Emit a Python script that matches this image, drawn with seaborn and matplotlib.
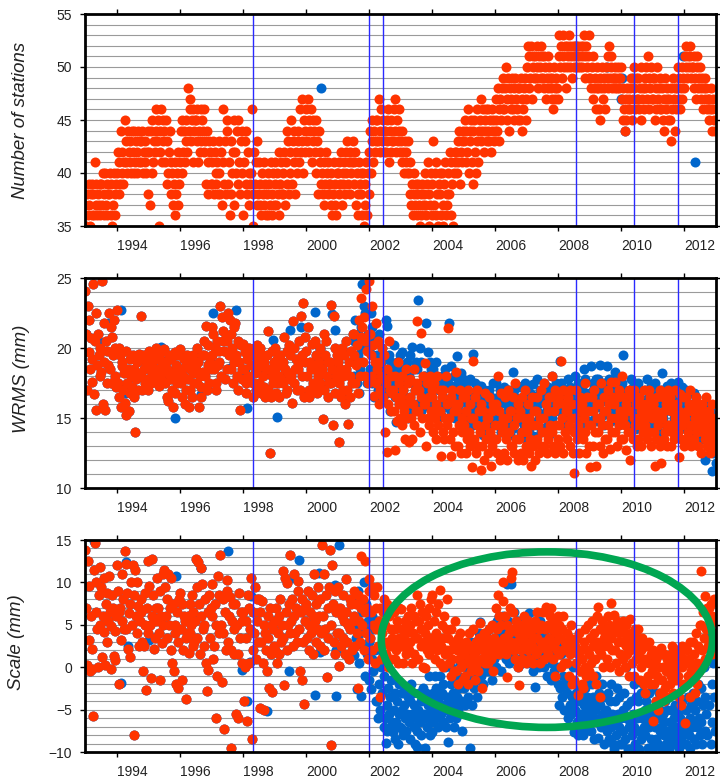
import numpy as np
import matplotlib
matplotlib.use("Agg")
import matplotlib.pyplot as plt
from matplotlib.patches import Ellipse
from matplotlib.ticker import FixedLocator, FixedFormatter, NullFormatter, MultipleLocator
import seaborn as sns

# ---------------------------------------------------------------------------
# Weekly-ish network solutions, 40 epochs per year, one row = one quarter year
# ---------------------------------------------------------------------------
SAMPLES_PER_YEAR = 40
START = 1993.0
SPLIT = 2001.5          # before this epoch both solutions coincide

# Number of stations in the network, 1993.0 - 2013.0
stations = [
    37, 35, 38, 36, 39, 37, 35, 38, 36, 39,
    38, 36, 41, 37, 39, 36, 38, 37, 39, 36,
    39, 37, 40, 36, 38, 40, 37, 39, 36, 38,
    38, 40, 36, 39, 35, 37, 40, 38, 36, 39,
    40, 42, 38, 41, 39, 44, 40, 42, 39, 41,
    45, 41, 43, 40, 44, 42, 41, 43, 40, 44,
    42, 40, 44, 41, 43, 40, 42, 44, 41, 43,
    43, 41, 44, 40, 42, 41, 43, 40, 42, 44,
    38, 42, 37, 44, 40, 45, 41, 43, 42, 44,
    46, 43, 45, 35, 42, 44, 46, 41, 43, 45,
    44, 41, 45, 39, 43, 40, 42, 44, 38, 41,
    40, 37, 39, 36, 41, 38, 40, 37, 42, 39,
    41, 44, 40, 45, 42, 44, 41, 43, 45, 42,
    48, 44, 47, 46, 43, 45, 46, 41, 44, 45,
    45, 43, 46, 41, 44, 42, 46, 43, 45, 44,
    46, 42, 43, 39, 44, 41, 38, 43, 42, 39,
    41, 39, 43, 38, 42, 40, 39, 41, 38, 43,
    40, 38, 42, 37, 46, 41, 39, 43, 38, 45,
    44, 39, 41, 36, 43, 38, 40, 42, 37, 45,
    42, 40, 44, 39, 45, 41, 38, 43, 40, 44,
    36, 41, 43, 39, 44, 38, 42, 40, 37, 39,
    40, 46, 38, 35, 42, 39, 41, 37, 43, 38,
    41, 37, 39, 36, 40, 38, 41, 37, 39, 36,
    38, 40, 36, 39, 37, 41, 38, 36, 40, 37,
    39, 41, 37, 40, 38, 42, 36, 39, 41, 38,
    40, 38, 42, 37, 41, 44, 39, 43, 38, 40,
    42, 45, 39, 43, 41, 44, 38, 42, 40, 43,
    44, 41, 46, 42, 47, 43, 40, 45, 42, 44,
    46, 43, 47, 42, 45, 44, 46, 41, 43, 45,
    44, 42, 45, 40, 43, 38, 44, 41, 42, 39,
    40, 38, 41, 37, 39, 42, 40, 38, 41, 39,
    39, 37, 40, 36, 38, 41, 39, 37, 36, 40,
    40, 38, 41, 39, 42, 37, 40, 39, 41, 38,
    42, 40, 43, 39, 41, 38, 42, 40, 41, 43,
    41, 39, 42, 37, 40, 38, 36, 41, 39, 40,
    38, 36, 40, 35, 39, 37, 41, 36, 40, 38,
    42, 44, 40, 43, 45, 41, 44, 42, 43, 45,
    45, 43, 47, 44, 42, 46, 43, 45, 44, 42,
    44, 42, 45, 43, 46, 41, 44, 45, 42, 43,
    43, 46, 44, 47, 42, 45, 43, 46, 44, 42,
    43, 41, 44, 42, 40, 43, 41, 42, 40, 43,
    40, 38, 41, 37, 39, 36, 38, 40, 37, 39,
    38, 36, 39, 37, 35, 38, 36, 39, 37, 38,
    37, 40, 36, 39, 41, 38, 35, 37, 40, 36,
    39, 43, 37, 40, 36, 41, 38, 35, 39, 40,
    38, 36, 40, 35, 37, 39, 41, 36, 38, 37,
    40, 38, 42, 36, 41, 39, 35, 40, 42, 41,
    42, 40, 43, 41, 44, 39, 42, 43, 41, 44,
    43, 45, 41, 44, 42, 46, 40, 44, 43, 45,
    41, 44, 39, 45, 42, 40, 46, 43, 41, 44,
    45, 43, 47, 44, 46, 42, 45, 44, 46, 43,
    44, 46, 43, 45, 42, 44, 46, 45, 43, 44,
    45, 47, 44, 48, 46, 43, 47, 45, 48, 46,
    49, 46, 48, 50, 45, 47, 49, 44, 48, 46,
    47, 49, 46, 48, 45, 49, 47, 46, 48, 45,
    48, 45, 49, 47, 44, 46, 48, 49, 45, 47,
    50, 52, 48, 51, 49, 52, 47, 50, 51, 49,
    51, 49, 52, 50, 48, 51, 50, 52, 49, 51,
    49, 51, 48, 50, 47, 49, 51, 48, 50, 49,
    48, 47, 49, 46, 50, 48, 47, 49, 48, 47,
    51, 53, 50, 52, 49, 51, 53, 50, 52, 48,
    52, 50, 51, 53, 50, 52, 51, 49, 52, 50,
    51, 52, 50, 51, 52, 50, 51, 50, 52, 51,
    50, 52, 53, 51, 49, 52, 50, 51, 53, 49,
    49, 48, 50, 47, 51, 48, 49, 46, 50, 48,
    48, 46, 49, 45, 48, 50, 47, 49, 48, 46,
    50, 49, 51, 48, 52, 49, 50, 51, 48, 49,
    49, 48, 50, 49, 48, 50, 49, 48, 49, 50,
    47, 45, 48, 46, 44, 47, 45, 48, 46, 47,
    48, 46, 49, 45, 47, 50, 48, 46, 49, 47,
    47, 49, 46, 48, 45, 50, 47, 48, 46, 49,
    48, 50, 47, 51, 49, 46, 48, 50, 47, 49,
    47, 49, 45, 48, 46, 50, 47, 48, 46, 49,
    46, 48, 45, 47, 44, 49, 46, 48, 47, 45,
    47, 45, 48, 43, 46, 49, 47, 44, 48, 46,
    48, 50, 47, 49, 46, 48, 50, 47, 49, 48,
    51, 50, 52, 49, 51, 50, 52, 51, 49, 50,
    50, 48, 51, 49, 47, 50, 51, 48, 49, 50,
    48, 47, 49, 46, 48, 47, 49, 48, 46, 47,
    47, 45, 46, 48, 44, 46, 47, 45, 44, 46,
]
# epochs where the blue solution used a different station count
stations_blue_epochs = [2000.48, 2008.55, 2009.55, 2010.02, 2010.0, 2010.1, 2010.36, 2011.95, 2012.35]
stations_blue_counts = [48, 52, 50, 49, 47, 44, 49, 51, 41]

# WRMS (mm): common part, then the two solutions
wrms_common = [
    24.1, 21.0, 17.0, 23.0, 19.7, 22.0, 18.5, 20.7, 17.6, 19.2,
    24.6, 16.7, 20.5, 22.5, 15.6, 18.8, 21.0, 19.5, 18.0, 20.0,
    18.3, 24.8, 16.0, 19.0, 21.8, 15.6, 20.5, 17.5, 19.8, 18.8,
    22.5, 18.5, 21.5, 17.5, 20.8, 19.5, 22.0, 18.0, 20.0, 17.2,
    22.7, 17.5, 20.0, 16.5, 19.5, 15.8, 18.7, 19.0, 17.0, 18.2,
    16.1, 19.8, 15.2, 17.5, 18.5, 15.5, 16.8, 19.2, 18.0, 17.2,
    19.5, 16.5, 18.5, 14.0, 17.8, 19.0, 18.2, 17.0, 19.6, 18.0,
    18.0, 22.3, 17.0, 19.5, 18.5, 17.5, 19.2, 18.8, 17.8, 19.0,
    17.0, 19.8, 18.5, 17.5, 19.0, 18.2, 19.5, 18.0, 17.8, 19.2,
    20.0, 18.5, 19.5, 17.3, 18.0, 19.2, 17.8, 18.8, 19.8, 18.3,
    19.9, 17.5, 19.0, 16.5, 18.5, 16.2, 19.5, 18.0, 17.8, 19.2,
    17.0, 15.8, 18.3, 19.7, 16.8, 18.8, 17.5, 19.5, 18.0, 17.8,
    19.9, 17.5, 18.5, 16.5, 18.0, 19.2, 16.0, 18.8, 17.0, 19.5,
    17.8, 15.8, 18.5, 17.0, 19.0, 16.5, 18.2, 19.5, 17.5, 18.8,
    18.5, 20.0, 17.5, 19.0, 15.8, 18.0, 16.5, 17.2, 19.5, 18.3,
    19.5, 20.5, 18.0, 21.6, 17.0, 18.8, 20.2, 17.5, 19.0, 18.5,
    21.5, 19.5, 21.0, 18.5, 20.0, 17.5, 17.0, 20.5, 18.8, 19.8,
    19.0, 23.0, 18.0, 22.2, 20.5, 21.2, 19.8, 17.8, 20.8, 18.5,
    20.5, 22.5, 19.5, 22.0, 18.5, 21.0, 20.0, 17.5, 21.5, 19.0,
    21.8, 19.5, 18.0, 20.5, 17.0, 19.0, 15.6, 20.2, 18.5, 17.8,
    20.3, 18.5, 19.7, 17.5, 16.8, 19.2, 18.0, 20.0, 17.8, 19.5,
    18.8, 19.9, 17.5, 16.5, 19.5, 18.2, 17.0, 20.2, 18.5, 19.0,
    17.5, 20.0, 18.8, 16.8, 19.5, 18.0, 17.2, 19.0, 16.5, 18.5,
    19.5, 17.0, 21.2, 18.5, 12.5, 16.5, 18.0, 19.8, 17.5, 19.0,
    18.5, 20.0, 16.8, 19.2, 17.5, 18.0, 16.5, 19.5, 17.8, 18.8,
    19.0, 17.5, 20.8, 18.5, 16.8, 19.8, 17.0, 18.2, 20.2, 17.8,
    19.5, 18.0, 16.1, 21.9, 17.5, 20.0, 18.5, 19.2, 17.0, 18.8,
    18.5, 20.5, 17.0, 22.3, 19.5, 18.0, 23.2, 16.5, 19.0, 20.8,
    19.8, 18.0, 21.5, 17.0, 16.5, 19.0, 18.5, 20.3, 17.5, 18.8,
    18.5, 20.5, 17.2, 19.5, 16.8, 18.0, 19.0, 17.5, 20.0, 18.2,
    18.5, 14.9, 17.0, 21.0, 19.5, 20.5, 18.0, 16.5, 19.0, 17.5,
    19.0, 17.5, 23.1, 18.5, 14.5, 22.3, 20.0, 16.8, 18.0, 19.5,
    19.0, 17.5, 13.3, 18.5, 16.5, 20.0, 18.0, 17.0, 19.5, 16.0,
    18.5, 20.5, 17.0, 14.6, 19.0, 16.5, 18.0, 19.8, 17.5, 21.0,
]
wrms_blue_late = [
    20.5, 18.0, 22.0, 19.0, 17.5, 21.0, 19.5, 16.8, 18.5, 20.0,
    21.5, 24.6, 19.0, 23.0, 18.0, 22.5, 20.0, 17.5, 21.0, 19.8,
    20.5, 18.5, 22.5, 17.5, 21.5, 19.5, 16.5, 20.8, 18.0, 19.0,
    19.5, 17.0, 21.0, 18.0, 16.5, 18.8, 20.0, 17.5, 18.5, 19.2,
    18.0, 22.0, 16.8, 21.6, 17.0, 19.5, 15.5, 18.5, 19.0, 17.5,
    17.5, 20.2, 16.5, 18.5, 14.7, 19.0, 17.0, 18.0, 16.0, 19.5,
    18.0, 19.7, 16.0, 17.0, 18.5, 15.5, 17.5, 16.5, 19.0, 15.0,
    18.0, 16.5, 19.5, 15.5, 20.1, 17.5, 16.0, 18.5, 17.0, 19.0,
    18.5, 16.0, 23.4, 17.0, 20.0, 15.5, 19.0, 17.5, 16.5, 18.0,
    18.0, 16.5, 21.8, 17.0, 19.7, 15.8, 17.5, 19.0, 18.5, 16.0,
    16.5, 18.5, 15.5, 17.5, 19.0, 16.0, 18.0, 15.0, 17.0, 17.8,
    17.0, 15.2, 18.0, 16.5, 17.5, 16.0, 18.5, 15.8, 17.2, 16.3,
    17.5, 21.8, 16.0, 18.7, 15.5, 17.0, 16.5, 18.0, 15.0, 17.3,
    16.5, 19.4, 15.5, 17.5, 16.0, 17.0, 18.2, 15.0, 16.8, 17.8,
    16.5, 14.5, 17.5, 15.5, 17.0, 16.0, 15.0, 17.8, 16.3, 14.8,
    16.5, 14.5, 19.6, 15.5, 17.5, 16.0, 17.0, 15.0, 16.8, 17.3,
    15.5, 17.3, 14.5, 16.5, 13.8, 17.0, 15.0, 16.0, 16.8, 15.3,
    16.0, 14.0, 17.0, 15.0, 16.5, 14.5, 15.5, 17.5, 13.5, 16.2,
    15.5, 17.5, 14.5, 16.5, 15.0, 16.0, 17.0, 14.0, 16.3, 15.3,
    15.0, 17.2, 14.0, 16.0, 16.5, 14.5, 15.5, 17.0, 13.8, 16.2,
    16.0, 14.2, 18.3, 15.0, 17.0, 16.5, 15.5, 14.8, 17.3, 16.2,
    15.0, 17.2, 14.0, 16.0, 15.5, 16.5, 14.5, 17.5, 15.8, 13.5,
    15.2, 17.0, 14.2, 16.2, 15.7, 16.7, 14.7, 17.4, 13.7, 16.0,
    16.5, 14.5, 17.8, 15.5, 16.0, 15.0, 17.0, 14.0, 16.3, 15.3,
    15.3, 17.5, 14.3, 16.3, 16.8, 15.8, 14.8, 17.2, 13.8, 16.0,
    16.0, 18.0, 15.0, 17.0, 16.5, 15.5, 14.5, 17.5, 15.8, 16.8,
    16.5, 15.5, 19.1, 17.5, 14.5, 17.0, 16.0, 15.0, 16.8, 15.8,
    16.8, 14.8, 17.8, 15.8, 17.2, 16.2, 15.2, 14.2, 16.5, 15.5,
    16.0, 18.0, 15.0, 17.0, 17.5, 16.5, 15.5, 14.5, 16.8, 15.8,
    17.3, 15.3, 18.5, 16.3, 17.8, 16.8, 15.8, 14.8, 16.5, 15.5,
    16.5, 18.7, 15.5, 17.5, 17.0, 16.0, 15.0, 17.8, 16.3, 14.8,
    17.8, 15.8, 18.8, 16.8, 17.2, 16.2, 15.2, 17.5, 14.5, 16.5,
    16.5, 18.7, 15.5, 17.5, 17.8, 16.8, 15.8, 14.8, 17.2, 16.0,
    17.3, 15.3, 18.3, 16.3, 17.8, 16.8, 15.8, 14.5, 17.0, 16.0,
    17.5, 19.5, 15.5, 16.5, 17.0, 16.0, 15.0, 14.5, 16.8, 15.8,
    16.8, 14.8, 17.8, 15.8, 17.2, 16.2, 15.2, 14.2, 16.5, 15.5,
    16.5, 17.5, 14.5, 15.5, 17.0, 16.0, 15.0, 14.0, 16.3, 15.3,
    17.0, 15.0, 17.8, 16.0, 16.5, 15.5, 14.5, 17.3, 15.8, 14.2,
    16.5, 14.5, 17.5, 15.5, 17.0, 16.0, 15.0, 14.0, 16.3, 15.3,
    17.0, 18.2, 15.0, 16.0, 16.5, 15.5, 14.5, 17.3, 15.8, 14.2,
    16.5, 14.5, 17.5, 15.5, 17.0, 16.0, 15.0, 14.0, 16.3, 15.3,
    16.8, 17.6, 14.8, 15.8, 16.3, 15.3, 14.3, 17.2, 15.6, 14.6,
    16.2, 17.0, 14.2, 15.2, 16.7, 15.7, 14.7, 13.7, 16.0, 15.0,
    16.0, 16.8, 14.0, 15.0, 16.5, 15.5, 14.5, 13.5, 15.8, 14.8,
    15.5, 15.8, 13.5, 14.5, 16.0, 15.0, 12.0, 14.0, 15.3, 14.3,
    15.0, 13.0, 15.5, 14.0, 11.2, 14.5, 12.5, 15.2, 13.5, 11.8,
]
wrms_red_late = [
    19.5, 21.0, 17.5, 18.8, 20.2, 16.8, 19.0, 22.0, 18.0, 20.8,
    23.6, 21.5, 19.0, 22.2, 20.5, 18.0, 24.2, 19.8, 17.5, 21.0,
    24.8, 21.0, 19.5, 23.0, 18.0, 20.2, 16.6, 19.0, 21.8, 17.5,
    18.5, 20.5, 16.0, 19.0, 17.0, 18.0, 20.0, 16.5, 17.8, 19.5,
    14.0, 17.5, 12.6, 18.5, 16.0, 20.5, 17.0, 15.5, 18.0, 16.8,
    17.0, 15.5, 12.7, 18.0, 16.5, 14.8, 19.0, 16.0, 17.5, 15.0,
    16.5, 18.0, 14.5, 17.0, 15.5, 13.5, 16.0, 18.5, 15.0, 17.5,
    13.3, 16.5, 17.8, 15.0, 13.5, 16.0, 18.5, 14.5, 17.0, 15.5,
    17.5, 21.9, 15.5, 17.0, 14.0, 16.5, 21.1, 15.0, 18.0, 16.0,
    18.9, 16.0, 13.0, 17.5, 15.0, 16.5, 14.5, 18.0, 15.5, 17.0,
    16.5, 14.0, 17.5, 15.0, 13.5, 16.0, 18.0, 14.5, 15.5, 17.0,
    15.5, 12.3, 16.5, 14.0, 17.0, 13.5, 15.0, 18.0, 14.5, 16.0,
    21.4, 15.0, 13.5, 16.5, 12.3, 17.0, 14.0, 15.5, 13.0, 16.0,
    18.3, 15.5, 13.0, 16.0, 14.5, 17.0, 12.5, 15.0, 14.0, 16.5,
    14.5, 16.5, 12.5, 15.5, 13.5, 17.0, 14.0, 16.0, 13.0, 15.0,
    11.5, 15.0, 19.1, 13.5, 16.5, 12.5, 14.5, 17.0, 13.0, 15.5,
    14.0, 11.3, 16.0, 13.0, 15.5, 12.0, 14.5, 16.8, 13.5, 15.0,
    15.0, 12.5, 16.5, 14.0, 11.6, 15.5, 13.0, 16.0, 13.5, 14.5,
    13.5, 16.0, 12.5, 18.0, 14.5, 15.5, 12.0, 16.8, 14.0, 15.0,
    14.5, 12.5, 16.5, 13.5, 15.0, 12.0, 17.0, 14.0, 15.5, 13.0,
    15.5, 13.0, 16.5, 12.5, 14.5, 17.5, 13.5, 15.0, 12.0, 16.0,
    13.5, 15.5, 12.5, 16.5, 14.0, 12.0, 15.0, 17.0, 13.0, 14.5,
    14.0, 16.0, 12.5, 15.0, 13.5, 11.6, 16.5, 14.5, 13.0, 15.5,
    12.0, 15.5, 13.5, 16.5, 14.5, 12.5, 15.0, 17.0, 13.0, 14.0,
    15.0, 13.0, 17.5, 14.0, 16.0, 12.5, 15.5, 13.5, 16.5, 14.5,
    16.5, 14.0, 18.0, 13.0, 15.5, 12.5, 17.0, 14.5, 16.0, 13.5,
    14.5, 16.5, 13.0, 19.1, 15.0, 17.0, 12.5, 16.0, 14.0, 15.5,
    15.5, 13.5, 16.5, 14.5, 17.0, 13.0, 15.0, 16.0, 12.5, 14.0,
    11.1, 15.0, 17.0, 13.5, 16.0, 14.5, 12.5, 16.5, 15.5, 14.0,
    16.0, 13.5, 15.0, 17.5, 14.0, 12.5, 16.5, 15.5, 13.0, 14.5,
    11.5, 14.5, 16.5, 13.0, 15.5, 17.0, 14.0, 11.6, 16.0, 15.0,
    14.0, 16.0, 13.0, 15.0, 17.5, 14.5, 12.5, 16.5, 15.5, 13.5,
    15.5, 13.5, 17.0, 14.5, 16.0, 12.8, 15.0, 17.6, 14.0, 16.5,
    16.0, 14.0, 17.6, 15.0, 13.0, 16.5, 14.5, 17.0, 15.5, 13.5,
    18.0, 15.0, 13.5, 16.5, 14.5, 12.7, 16.0, 15.5, 14.0, 17.0,
    12.0, 15.5, 14.0, 16.5, 13.5, 15.0, 17.0, 14.5, 16.0, 13.0,
    15.0, 13.5, 16.5, 14.5, 15.5, 13.0, 16.0, 14.0, 17.0, 15.0,
    14.5, 16.0, 13.5, 15.5, 17.0, 14.0, 16.5, 13.0, 15.0, 16.0,
    16.0, 14.0, 11.6, 15.5, 13.5, 16.5, 14.5, 15.0, 13.0, 17.0,
    11.8, 15.0, 16.5, 13.5, 15.5, 14.0, 16.0, 14.5, 13.0, 17.0,
    14.5, 16.5, 13.0, 15.5, 14.0, 16.0, 13.5, 15.0, 17.0, 14.5,
    16.0, 14.0, 12.2, 15.5, 16.7, 13.5, 15.0, 14.5, 16.5, 13.0,
    15.0, 16.5, 13.5, 15.5, 14.0, 16.0, 14.5, 17.0, 13.0, 15.5,
    14.5, 16.0, 13.5, 15.0, 16.5, 14.0, 15.5, 13.0, 16.0, 14.5,
    15.0, 12.5, 16.0, 14.0, 15.5, 13.5, 14.5, 16.5, 13.0, 15.0,
    14.0, 15.5, 12.5, 15.0, 13.5, 16.0, 14.5, 13.0, 15.0, 14.0,
]
wrms_blue_epochs = [1993.04, 1993.46, 1993.72, 1994.15, 1994.29, 1995.42, 1995.47, 1995.84,
                    1996.69, 1997.06, 1997.59, 1997.80, 1998.06, 1998.12, 1998.96, 1999.07,
                    1999.49, 1999.86, 2000.29, 2000.44, 2000.82, 2000.92]
wrms_blue_values = [21.0, 20.4, 21.8, 22.7, 16.8, 20.1, 17.7, 15.0,
                    16.7, 22.5, 18.6, 22.7, 18.3, 15.7, 20.6, 15.1,
                    21.3, 21.5, 22.6, 19.9, 22.4, 21.3]

# Scale (mm): common part, then the two solutions
scale_common = [
    13.8, 7.0, 0.3, 12.5, 3.2, 9.6, -0.5, 6.0, 2.2, -0.2,
    -5.8, 11.5, 14.7, 6.5, 10.0, 4.5, 0.0, 8.5, 5.0, 11.8,
    9.5, 1.2, 6.0, 4.2, 10.5, 0.3, 7.5, 3.0, 8.8, 5.5,
    10.8, 6.5, 4.8, -0.2, 8.5, 7.0, 1.3, 4.3, 0.8, 6.0,
    12.0, 9.0, 6.5, -2.0, 7.0, 3.2, 11.0, 5.5, 8.0, 4.5,
    13.7, 4.5, 12.2, 8.7, 2.2, 6.4, 1.2, 7.5, 10.0, 5.0,
    12.0, -8.0, 8.5, 11.5, 6.0, 10.0, 4.0, 7.2, 2.5, 5.5,
    8.0, 6.5, 3.0, -0.5, 2.5, 5.0, 8.8, -2.7, 7.0, 4.0,
    12.5, 9.6, 5.0, -1.3, 6.0, 12.8, 8.5, 2.2, 3.5, 7.0,
    5.5, 10.5, 7.0, 4.0, -1.5, 9.0, 6.0, 2.8, 11.0, 5.0,
    11.5, 9.5, 6.0, 3.5, 8.0, 11.0, 5.0, 7.0, 2.0, 10.5,
    0.5, 7.5, -0.5, 5.0, 4.0, -2.0, 6.5, -2.5, 3.0, 8.0,
    8.7, 4.5, -1.5, 7.5, 2.0, 6.0, 5.5, 3.5, -3.8, 4.0,
    6.0, 1.7, 7.5, 4.0, 5.0, 8.5, 2.5, 6.5, 3.0, 5.5,
    12.8, 9.5, 3.5, 12.4, 7.5, 1.5, 11.7, 6.0, 9.8, 4.5,
    5.0, 2.5, 8.0, 0.5, -2.8, 6.5, -0.3, 8.5, 3.5, 7.0,
    9.8, 6.0, 1.0, 2.5, 7.5, -6.0, 5.0, -1.0, 10.8, 4.0,
    8.5, 13.2, 5.0, -1.8, 8.0, 4.0, -7.3, 6.5, 2.0, 9.0,
    10.3, 3.0, 6.0, 8.3, 2.0, -9.5, 5.5, 7.5, 1.5, 4.5,
    7.5, -5.5, 5.0, -6.0, 1.5, 8.7, 3.5, 6.5, 0.5, 5.5,
    6.5, -4.0, 0.0, 5.5, 3.5, -6.3, 8.5, 0.5, 7.0, 4.5,
    10.5, -8.5, 2.0, 6.5, 4.0, 9.5, 1.0, 5.5, 8.0, 3.0,
    8.0, -4.8, 6.5, 3.0, 7.8, 0.5, 5.0, -5.0, 4.0, 2.0,
    -0.5, 6.0, 3.5, -2.5, 7.0, 1.5, 5.0, -2.9, 4.5, 2.5,
    5.5, 2.0, 7.0, 0.5, 4.0, 6.0, 1.5, 8.0, 3.0, 5.0,
    11.3, 3.5, -2.1, 10.5, 6.5, 2.0, 9.9, 5.0, 7.5, 4.0,
    13.2, 5.5, 8.0, 2.5, 6.0, 11.0, 4.0, 7.0, 3.0, 9.0,
    10.2, 4.5, -0.5, 6.5, -1.5, 8.0, 3.0, -4.3, 5.5, 7.0,
    7.5, 3.5, 9.0, 5.0, 2.0, 6.5, 4.0, 8.5, 1.5, 6.0,
    11.0, 5.5, 3.0, 7.5, 4.5, 9.5, 6.0, 2.5, 8.0, 4.0,
    14.4, 6.0, 2.0, 11.0, 4.5, 8.5, -1.1, 7.0, 3.5, 9.5,
    13.8, 5.0, -9.2, 12.0, 7.5, 3.0, 9.0, 1.5, 6.5, 4.0,
    9.5, 4.0, 0.2, 7.0, 2.5, 6.0, 8.5, 3.5, 5.5, 1.5,
    6.5, 10.4, 3.0, 5.0, 1.0, 8.0, 4.5, 7.5, 2.0, 5.5,
]
scale_blue_late = [
    6.0, 1.4, 8.0, 3.5, -2.6, 5.0, 9.0, 0.5, 4.0, 7.0,
    -3.4, 6.5, 2.5, 10.0, -1.0, 4.5, 7.5, 1.5, 5.5, 3.0,
    -1.5, 3.5, -2.6, 6.0, 1.0, -0.5, 4.5, 2.0, -4.0, 5.0,
    -4.0, -6.0, -2.0, 2.5, -5.0, 0.0, -3.0, 1.5, -7.0, -1.0,
    -6.0, -8.9, -4.5, -7.5, -2.5, -5.5, -3.5, -7.0, -1.5, -6.5,
    -7.7, -5.0, -8.5, -3.0, -6.5, -4.0, -9.0, -5.5, -2.0, -7.0,
    -7.2, -5.0, -3.0, -8.0, -4.5, -6.0, -2.5, -7.5, -5.5, -3.5,
    -6.5, -4.0, -8.5, -2.0, -5.5, -3.0, -7.0, -4.5, -9.0, -6.0,
    -9.4, -7.5, -5.0, -3.0, -6.5, -8.0, -4.0, -6.0, -2.5, -5.5,
    -9.5, -6.0, -3.1, -7.0, -4.5, -1.0, -5.5, -8.0, -3.5, -6.5,
    -7.7, -3.0, -5.0, -1.0, -6.0, -2.5, -4.0, -7.0, -3.5, -5.5,
    -1.0, -5.5, -3.0, -6.5, -2.0, -4.5, 0.0, -7.0, -3.5, -5.0,
    -8.8, -4.0, -6.0, -2.0, 0.0, -5.0, -3.0, -7.0, -1.5, -4.5,
    -6.0, -3.5, -1.0, -5.0, -2.5, 0.5, -4.0, -7.5, -2.0, 1.0,
    -2.5, -4.5, 0.0, -1.5, 2.0, -3.5, 1.0, -9.5, -0.5, 3.0,
    -4.5, -1.0, 1.5, -2.5, 3.0, 0.0, -3.5, 2.0, -1.5, 4.0,
    5.3, 0.5, -1.0, 2.5, -2.0, 3.5, 1.0, -0.5, 4.0, 1.5,
    -0.5, 2.0, 4.5, 0.0, 3.0, -1.5, 2.5, 5.0, 1.0, 3.5,
    0.0, 3.0, 5.5, 1.5, 6.0, 2.0, 4.0, -0.5, 3.5, 5.0,
    6.0, 2.5, 4.5, 1.0, 9.8, 3.0, 5.5, 0.5, 4.0, 2.0,
    9.8, 3.5, 1.0, 4.5, 6.5, 2.0, 3.0, 5.5, 0.0, 4.0,
    3.5, 1.0, 4.5, 2.5, 0.5, 5.0, 3.0, 1.5, 4.0, 2.0,
    0.5, 3.5, 6.4, 2.0, 4.0, 1.0, 5.0, -0.5, 3.0, 2.5,
    -2.3, 2.5, 4.5, 1.0, 3.5, 0.0, 5.5, 2.0, 4.0, 1.5,
    1.0, 3.0, 0.0, 4.5, 2.0, -1.0, 3.5, 1.5, 5.0, 2.5,
    -1.5, 2.0, 0.5, 3.5, -0.5, 1.5, 4.0, 0.0, 2.5, -2.0,
    -4.5, 0.0, -2.5, 1.5, -3.5, -1.0, 2.0, -5.0, -2.0, 0.5,
    -5.2, -3.0, -6.0, -1.5, -4.5, -2.0, -5.5, -3.5, 0.0, -4.0,
    -7.7, -5.0, -3.0, -6.5, -4.0, -8.0, -2.5, -5.5, -7.0, -3.5,
    -6.0, -8.0, -4.5, -2.5, -7.0, -5.0, -3.5, -6.5, -1.5, -5.5,
    -4.5, -7.5, -2.0, -6.0, -3.5, -8.5, -5.0, -1.0, -6.5, -4.0,
    -8.4, -3.0, -6.0, -4.5, -7.0, -2.0, -5.5, -9.0, -3.5, -6.5,
    -5.0, -7.5, -3.0, -6.0, -8.5, -4.0, -2.0, -7.0, -5.5, -9.0,
    -9.6, -6.5, -4.0, -8.0, -2.5, -5.5, -7.0, -3.5, -9.0, -6.0,
    -9.0, -5.0, -7.5, -3.0, -8.5, -6.0, 0.0, -4.5, -9.6, -7.0,
    -6.5, -9.7, -4.0, -8.0, -5.5, -2.0, -7.0, -9.0, -3.5, -6.0,
    -4.0, -7.5, -9.7, -5.5, -3.0, -8.5, -6.0, -2.0, -7.0, -5.0,
    -8.0, -4.0, -6.5, -9.5, -3.0, -7.0, -5.5, -8.5, -2.5, -6.0,
    -9.5, -5.5, -7.0, -8.5, -4.0, -6.0, -9.0, -3.0, -7.5, -5.0,
    -7.0, -9.6, -5.5, -8.0, -6.5, -4.0, -9.0, -7.5, -5.0, -8.5,
    -9.6, -6.5, -8.0, -5.0, -7.5, -9.0, -6.0, -4.5, -8.5, -7.0,
    -8.0, -5.5, -9.5, -7.0, -6.0, -8.5, -4.0, -9.0, -6.5, -7.5,
    -6.5, -9.0, -5.0, -7.5, -3.5, -8.0, -6.0, -9.5, -4.5, -7.0,
    -3.0, -6.5, -8.5, -5.0, -9.0, -4.0, -7.0, -2.0, -6.0, -8.0,
    -6.5, -2.5, -9.0, -4.5, 0.0, -7.5, -3.5, -5.5, -8.0, 1.0,
    3.5, -4.5, 2.0, -9.0, -2.0, -6.5, 0.5, -3.5, -7.5, 1.5,
]
scale_red_late = [
    6.0, 9.0, 2.5, 7.5, 4.0, 8.5, -2.5, 5.5, 3.0, 7.0,
    13.1, 5.0, 8.0, 2.0, 6.5, 12.5, 4.0, 7.0, 1.0, 9.0,
    10.4, 3.5, 6.5, 9.5, 2.0, 5.0, 8.5, 0.5, 4.5, 7.0,
    9.5, 2.5, 5.5, -3.5, 7.0, 1.0, 4.0, 6.5, 3.0, 8.0,
    5.0, 1.5, 7.5, 3.0, 0.0, 6.0, 2.5, 4.5, 1.0, 3.5,
    3.0, 6.5, 1.0, 4.5, 2.0, 5.5, 0.5, 3.5, 7.0, 2.5,
    6.9, 2.5, 4.5, 0.5, 3.5, 5.5, 1.5, 4.0, 2.0, 6.0,
    2.0, 5.0, 3.0, 7.0, 0.5, 4.0, 6.0, 1.5, 3.5, 5.5,
    8.5, 3.5, 1.0, 5.5, 7.5, 2.5, 4.5, 6.5, 0.0, 3.0,
    -0.1, 4.0, 6.0, 2.0, 5.0, 7.0, 1.5, 3.5, 8.0, 2.5,
    8.5, 3.0, 5.5, 1.0, 4.0, 6.5, 2.0, 7.5, 3.5, 0.5,
    9.1, 2.5, 5.0, 0.0, 3.5, 6.0, 1.5, 4.5, 8.0, 2.0,
    3.5, 0.5, 2.0, -1.0, 4.5, 1.0, 3.0, -0.5, 2.5, 5.5,
    -0.5, 2.0, 3.5, -2.0, 1.0, 4.0, 0.0, 2.5, 1.5, -1.5,
    1.5, -1.0, 3.0, 0.5, 2.0, -2.0, 4.0, 1.0, 2.5, -0.5,
    2.5, 0.0, 4.5, 1.5, -1.5, 3.0, 0.5, 2.0, -0.5, 3.5,
    5.2, 1.0, 3.0, -2.5, 2.0, 4.0, 0.5, 2.5, 1.5, 3.5,
    3.0, 0.5, 4.5, 2.0, 1.0, 5.0, 2.5, -0.5, 3.5, 1.5,
    7.0, 2.5, 4.5, 8.5, 1.5, 6.0, 3.0, 5.0, 2.0, 7.8,
    10.1, 3.5, 6.0, 1.5, -1.1, 5.0, 2.5, 4.0, 7.0, 3.0,
    10.5, 11.2, 6.5, 2.0, 4.5, 1.0, 5.5, 3.0, 0.0, 4.0,
    -2.1, 4.0, 2.0, 5.0, 1.0, 3.5, 6.0, 2.5, 0.5, 4.5,
    5.6, 2.0, 4.0, 1.0, 3.0, 5.0, 2.5, 0.5, 4.5, 3.5,
    5.5, 1.5, 3.5, 6.5, 2.0, 4.5, 0.5, 3.0, 5.0, 2.5,
    6.5, 3.0, 1.0, 4.5, 7.1, 2.0, 5.0, 1.5, 3.5, 6.0,
    7.0, 2.5, 4.5, 1.0, 5.5, 3.0, -1.0, 4.0, 2.0, 6.0,
    5.0, 1.5, 3.5, 0.0, 4.5, 2.0, 6.0, 0.5, 3.0, 2.5,
    4.0, 0.5, 2.5, -1.0, 3.5, 1.5, 5.0, -2.0, 2.0, 3.0,
    -1.5, 2.5, 0.5, 3.5, -3.3, 1.5, 4.0, -0.5, 2.0, -2.0,
    1.0, -2.5, 3.0, 0.0, 4.5, -1.0, 2.0, 5.0, -0.5, 1.5,
    3.5, 0.5, 5.5, -1.0, 2.5, 4.0, 1.0, -2.0, 3.0, 6.0,
    7.1, 2.0, 4.5, -3.5, 1.5, 5.5, 0.0, 3.5, 2.5, 4.0,
    4.5, 1.0, 6.0, 2.5, 5.0, 0.0, 3.5, 7.6, 2.0, 4.0,
    6.1, 2.0, 4.5, 0.5, 5.5, 3.0, -0.5, 4.0, 1.5, 5.0,
    3.0, 5.5, 1.0, 4.0, 0.0, 2.5, 5.0, 1.5, 3.5, -1.0,
    5.7, 2.0, 4.0, 0.5, 3.0, -1.0, 2.5, 4.5, 1.0, 3.5,
    4.5, 1.5, 3.0, -1.5, 2.0, 0.0, 3.5, 1.0, -2.0, 2.5,
    -3.0, 1.0, 2.5, -1.0, 0.5, 3.0, -2.0, 1.5, -0.5, 2.0,
    -6.4, -2.0, 0.5, -4.0, 1.0, -1.0, -5.0, 0.0, -3.0, 1.5,
    2.3, -1.5, 0.0, -4.0, 1.5, -2.5, -0.5, 1.0, -3.5, 0.5,
    0.0, -2.0, 1.5, -1.0, 2.5, -3.0, 0.5, -0.5, 1.0, -1.5,
    2.0, -1.0, -3.5, 0.5, 1.5, -4.5, 0.0, 2.5, -2.0, 1.0,
    -6.6, 0.5, -2.0, 2.0, -1.0, 1.0, -3.5, 3.0, -0.5, 0.0,
    3.0, -1.5, 1.5, -3.0, 4.0, 0.5, -2.0, 2.5, -0.5, 5.0,
    11.3, 5.0, 2.0, 6.5, 3.5, 8.4, 1.0, 4.5, 7.0, 2.5,
    7.0, 3.0, 5.0, 7.5, 1.5, 6.0, 4.0, 8.0, 2.5, 5.5,
]
scale_blue_epochs = [1993.30, 1994.15, 1994.30, 1994.36, 1995.02, 1995.90, 1996.69, 1997.54,
                     1997.98, 1998.12, 1998.22, 1998.27, 1998.76, 1999.47, 1999.60, 1999.79,
                     2000.28, 2000.42, 2000.44, 2000.92, 2000.97, 2000.97, 2001.06]
scale_blue_values = [14.9, -1.9, 12.4, 2.5, 3.2, 10.7, 11.7, 13.7,
                     -0.3, -4.0, 0.6, 8.4, -5.2, -0.5, 10.5, 12.6,
                     -3.3, 11.1, 1.8, 9.7, -3.4, 2.0, 14.4]

# Epochs of network/processing changes
change_epochs = [1998.32, 2002.0, 2002.43, 2008.55, 2010.41, 2011.78]

# Axis ranges, tick years and labels
YEAR_MIN, YEAR_MAX = 1993.0, 2013.0
tick_years = list(range(1994, 2013, 2))
tick_labels = [str(y) for y in tick_years]

RED = "#ff3300"
BLUE = "#0066cc"
GREEN = "#00a651"
LINE_BLUE = "#2a2aff"


def epochs(start, values):
    return start + (np.arange(len(values)) + 0.5) / SAMPLES_PER_YEAR


sns.set_theme(style="white")
plt.rcParams["font.family"] = ["Liberation Sans", "DejaVu Sans"]

fig = plt.figure(figsize=(7.2, 7.8), dpi=100)
W, H = 720.0, 780.0


def add_panel(top_px, bottom_px):
    left, right = 85.0, 716.0
    return fig.add_axes([left / W, 1 - bottom_px / H, (right - left) / W, (bottom_px - top_px) / H])


ax1 = add_panel(14, 226)
ax2 = add_panel(278, 488)
ax3 = add_panel(540, 752)

MS = 52

# --- panel 1: number of stations
t_st = epochs(START, stations)
sns.scatterplot(x=stations_blue_epochs, y=stations_blue_counts, color=BLUE, s=MS,
                linewidth=0, ax=ax1, legend=False, zorder=2)
sns.scatterplot(x=t_st, y=stations, color=RED, s=MS, linewidth=0, ax=ax1,
                legend=False, zorder=2)

# --- panel 2: WRMS
t_c = epochs(START, wrms_common)
t_bl = epochs(SPLIT, wrms_blue_late)
t_rl = epochs(SPLIT, wrms_red_late)
sns.scatterplot(x=np.concatenate([t_c, t_bl]), y=wrms_common + wrms_blue_late,
                color=BLUE, s=MS, linewidth=0, ax=ax2, legend=False, zorder=2)
sns.scatterplot(x=wrms_blue_epochs, y=wrms_blue_values, color=BLUE, s=MS,
                linewidth=0, ax=ax2, legend=False, zorder=2)
sns.scatterplot(x=np.concatenate([t_c, t_rl]), y=wrms_common + wrms_red_late,
                color=RED, s=MS, linewidth=0, ax=ax2, legend=False, zorder=2)

# --- panel 3: scale
t_c = epochs(START, scale_common)
t_bl = epochs(SPLIT, scale_blue_late)
t_rl = epochs(SPLIT, scale_red_late)
sns.scatterplot(x=np.concatenate([t_c, t_bl]), y=scale_common + scale_blue_late,
                color=BLUE, s=MS, linewidth=0, ax=ax3, legend=False, zorder=2)
sns.scatterplot(x=scale_blue_epochs, y=scale_blue_values, color=BLUE, s=MS,
                linewidth=0, ax=ax3, legend=False, zorder=2)
sns.scatterplot(x=np.concatenate([t_c, t_rl]), y=scale_common + scale_red_late,
                color=RED, s=MS, linewidth=0, ax=ax3, legend=False, zorder=2)

ax3.add_patch(Ellipse((2007.64, 3.25), width=10.5, height=20.7, fill=False,
                      edgecolor=GREEN, linewidth=5.5, zorder=5))

panels = [
    (ax1, (35, 55), 5, "Number of stations", (21, 120)),
    (ax2, (10, 25), 5, "WRMS (mm)", (22, 379)),
    (ax3, (-10, 15), 5, "Scale (mm)", (17, 642)),
]

for ax, (ylo, yhi), ystep, label, (lx, ly) in panels:
    ax.set_xlim(YEAR_MIN, YEAR_MAX)
    ax.set_ylim(ylo, yhi)
    ax.set_xlabel("")
    ax.set_ylabel("")

    for t in change_epochs:
        ax.axvline(t, color=LINE_BLUE, linewidth=1.0, zorder=4)

    # x: tick marks on even years, labels centred in the following year
    ax.xaxis.set_major_locator(FixedLocator(tick_years))
    ax.xaxis.set_major_formatter(NullFormatter())
    ax.xaxis.set_minor_locator(FixedLocator([y + 0.5 for y in tick_years]))
    ax.xaxis.set_minor_formatter(FixedFormatter(tick_labels))

    ax.yaxis.set_major_locator(MultipleLocator(ystep))
    ax.yaxis.set_minor_locator(MultipleLocator(1))

    ax.tick_params(which="major", direction="out", length=3.5, width=1.0,
                   color="black", top=True, right=True, bottom=True, left=True,
                   labelsize=10, labelcolor="#222222", pad=6)
    ax.tick_params(axis="x", which="minor", length=0, bottom=True, top=False,
                   labelsize=10, labelcolor="#222222", pad=9)
    ax.tick_params(axis="y", which="minor", length=0)

    ax.grid(axis="y", which="both", color="#9a9a9a", linewidth=0.8)
    ax.grid(axis="x", which="both", visible=False)
    ax.set_axisbelow(True)

    for sp in ax.spines.values():
        sp.set_visible(True)
        sp.set_color("black")
        sp.set_linewidth(2.0)
        sp.set_zorder(6)

    fig.text(lx / W, 1 - ly / H, label, rotation=90, ha="center", va="center",
             fontsize=13.5, style="italic", color="#222222")

fig.savefig("out.png", dpi=100)
